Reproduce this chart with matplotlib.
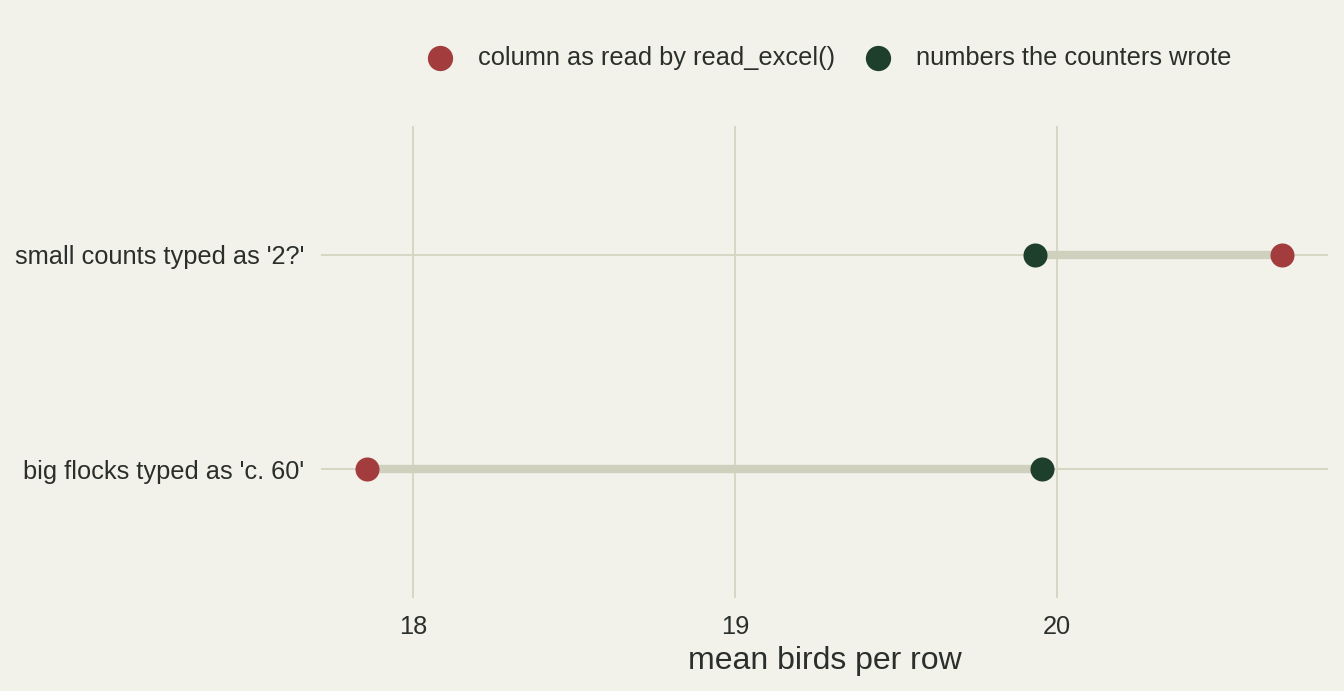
import matplotlib.pyplot as plt
import numpy as np

plt.rcParams['font.family'] = ['Liberation Sans', 'DejaVu Sans']

# data
categories = ["big flocks typed as 'c. 60'", "small counts typed as '2?'"]
as_read = [17.857, 20.699]
as_written = [19.953, 19.932]
series_names = ["column as read by read_excel()", "numbers the counters wrote"]
xticks = [18, 19, 20]

bg = '#f2f1ea'
grid_col = '#d5d5c3'
seg_col = '#d0d0bf'
red = '#a33d3d'
green = '#1e3f2b'
txt = '#2b2f2b'

fig = plt.figure(figsize=(13.44, 6.91), dpi=100, facecolor=bg)
ax = fig.add_axes([0.2388, 0.1346, 0.7492, 0.6831], facecolor=bg)

y = np.arange(len(categories))

ax.hlines(y, as_read, as_written, color=seg_col, linewidth=6, zorder=2)
ax.scatter(as_read, y, s=300, color=red, zorder=3, label=series_names[0], linewidths=0)
ax.scatter(as_written, y, s=300, color=green, zorder=3, label=series_names[1], linewidths=0)

ax.set_xlim(17.714, 20.842)
ax.set_ylim(-0.6, 1.6)
ax.set_xticks(xticks)
ax.set_yticks(y)
ax.set_yticklabels(categories)
ax.grid(True, color=grid_col, linewidth=1.3, zorder=1)
ax.set_axisbelow(True)
for s in ax.spines.values():
    s.set_visible(False)
ax.tick_params(length=0, labelsize=18.3, labelcolor=txt, pad=12)
ax.tick_params(axis='y', pad=12)
ax.set_xlabel("mean birds per row", fontsize=23, color=txt, labelpad=5)

leg = ax.legend(loc='center', bbox_to_anchor=(0.4985, 1.145), ncol=2, frameon=False,
                fontsize=18.3, handletextpad=0.5, columnspacing=0.7, markerscale=1.05)
for t in leg.get_texts():
    t.set_color(txt)

fig.savefig('out.png', dpi=100, facecolor=bg)
